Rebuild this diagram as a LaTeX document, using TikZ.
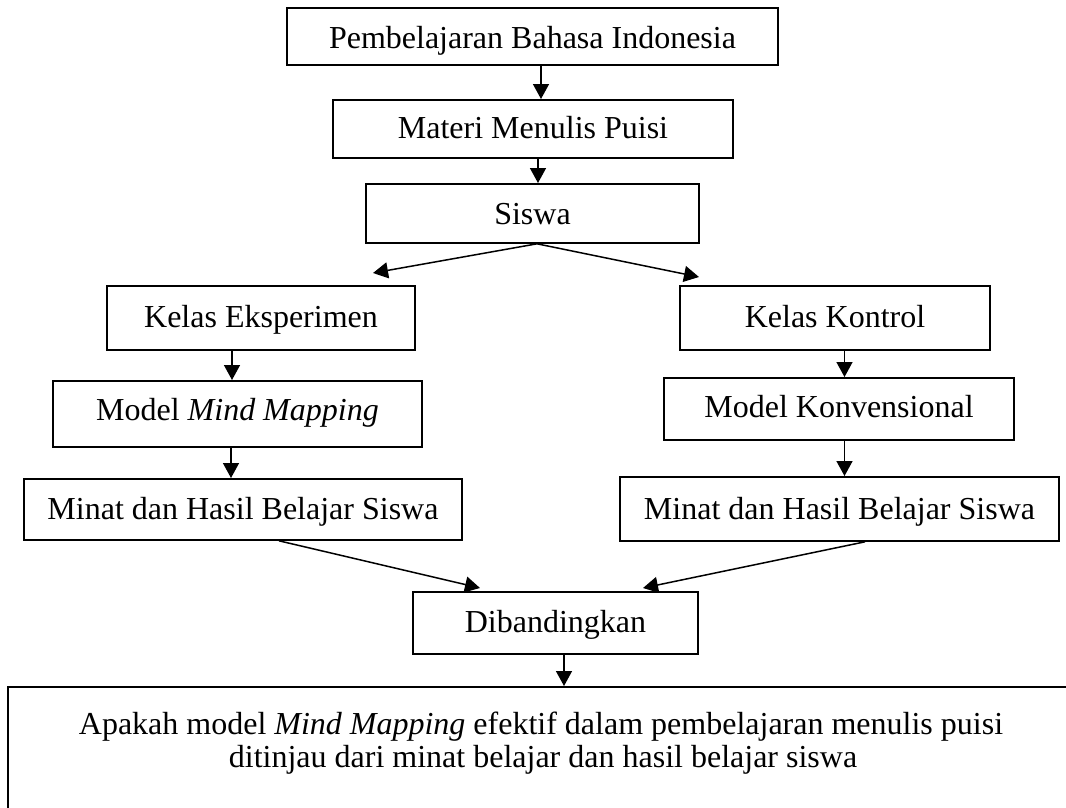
\documentclass[tikz,border=0pt]{standalone}
\usepackage{fontspec}
\setmainfont{Liberation Serif}
\usetikzlibrary{arrows.meta}
\begin{document}
\begin{tikzpicture}[x=1pt,y=-1pt,
  font=\fontsize{32}{34}\selectfont,
  box/.style={draw, line width=1.8pt, rectangle, inner sep=0pt, anchor=north},
  txt/.style={inner sep=0pt, anchor=base},
  arr/.style={line width=1.5pt, -{Triangle[length=15pt,width=16pt]}}]
\useasboundingbox (0,0) rectangle (1066,807);
\clip (0,0) rectangle (1066,807);
% boxes
\node[box, minimum width=491pt, text height=41pt, text depth=16pt] (b1) at (532.5,7) {Pembelajaran Bahasa Indonesia};
\node[box, minimum width=400pt, text height=39pt, text depth=19pt] (b2) at (533,99) {Materi Menulis Puisi};
\node[box, minimum width=333pt, text height=41pt, text depth=18pt] (b3) at (532.5,183) {Siswa};
\node[box, minimum width=308pt, text height=42pt, text depth=22pt] (kE) at (261,285) {Kelas Eksperimen};
\node[box, minimum width=369pt, text height=40pt, text depth=26pt] (mM) at (237.5,380) {Model \textit{Mind Mapping}};
\node[box, minimum width=438pt, text height=41pt, text depth=20pt] (hL) at (243,478) {Minat dan Hasil Belajar Siswa};
\node[box, minimum width=310pt, text height=42pt, text depth=22pt] (kK) at (835,285) {Kelas Kontrol};
\node[box, minimum width=350pt, text height=40pt, text depth=22pt] (mK) at (839,377) {Model Konvensional};
\node[box, minimum width=439pt, text height=43pt, text depth=21pt] (hR) at (839.5,476) {Minat dan Hasil Belajar Siswa};
\node[box, minimum width=285pt, text height=41pt, text depth=21pt] (dB) at (555.5,591) {Dibandingkan};
\node[box, anchor=north west, minimum width=1100pt, minimum height=200pt] (q) at (7,686) {};
\node[txt] (q1) at (541,734) {Apakah model \textit{Mind Mapping} efektif dalam pembelajaran menulis puisi};
\node[txt] (q2) at (543,767) {ditinjau dari minat belajar dan hasil belajar siswa};
% free ends
\coordinate (tl) at (373,273);
\coordinate (tr) at (699,277);
\coordinate (dl) at (480,588);
\coordinate (dr) at (643,588);
% connectors
\draw[arr] (541,0 |- b1.south) -- (541,0 |- b2.north);
\draw[arr] (538,0 |- b2.south) -- (538,0 |- b3.north);
\draw[arr] (537,0 |- b3.south) -- (tl);
\draw[arr] (537,0 |- b3.south) -- (tr);
\draw[arr] (232,0 |- kE.south) -- (232,0 |- mM.north);
\draw[arr] (231,0 |- mM.south) -- (231,0 |- hL.north);
\draw[arr] (844.5,0 |- kK.south) -- (844.5,0 |- mK.north);
\draw[arr] (844.5,0 |- mK.south) -- (844.5,0 |- hR.north);
\draw[arr] (279,0 |- hL.south) -- (dl);
\draw[arr] (865,0 |- hR.south) -- (dr);
\draw[arr] (564,0 |- dB.south) -- (564,0 |- q.north);
\end{tikzpicture}
\end{document}
